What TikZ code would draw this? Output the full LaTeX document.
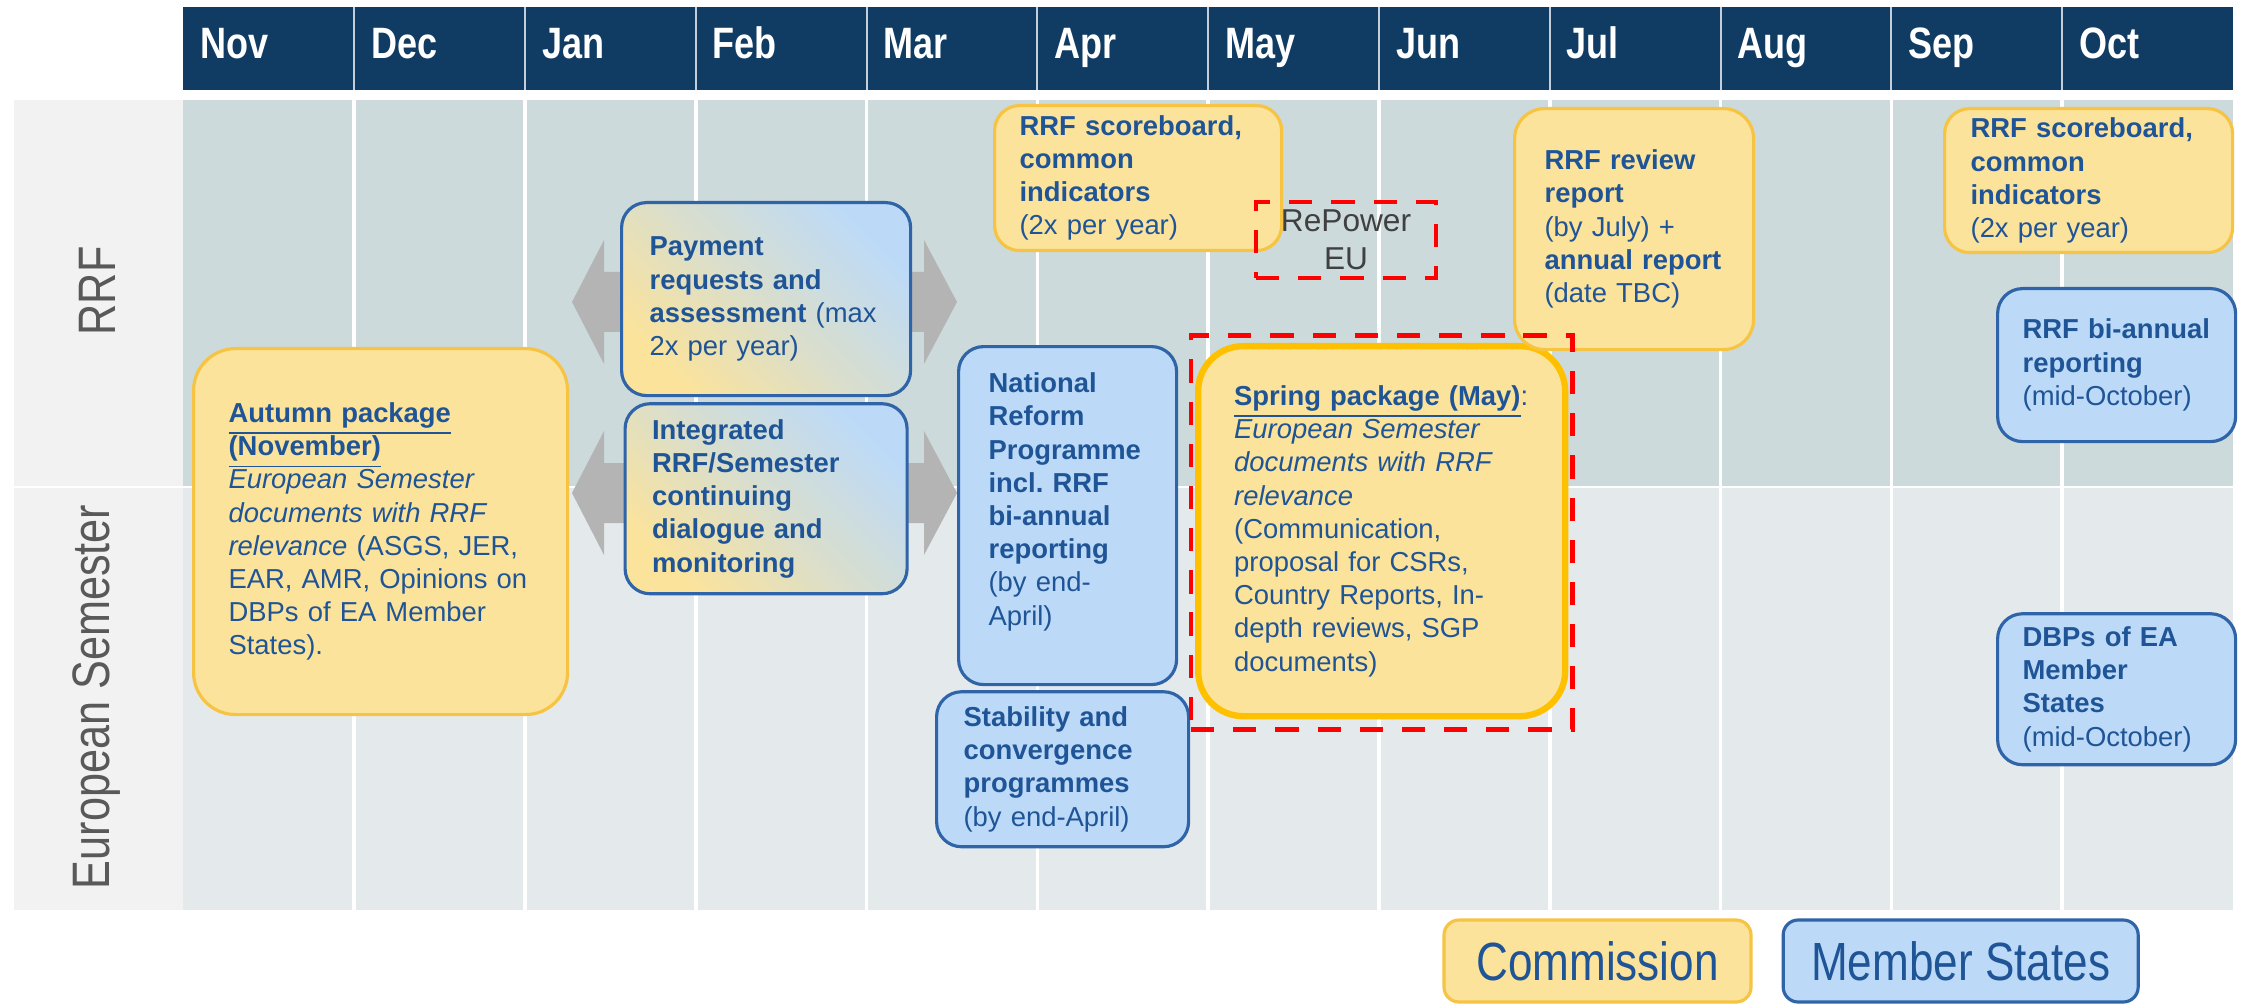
\documentclass[tikz,border=0pt]{standalone}
\usepackage{fontspec}
\setmainfont{Liberation Sans}
\newfontfamily\narrowfont[FakeStretch=0.82]{Liberation Sans}
\usetikzlibrary{positioning,fit}

\definecolor{headnavy}{RGB}{16,59,99}
\definecolor{rrfbg}{RGB}{204,218,220}
\definecolor{esbg}{RGB}{228,234,236}
\definecolor{lanebg}{RGB}{242,242,242}
\definecolor{lanegray}{RGB}{89,89,89}
\definecolor{comfill}{RGB}{251,227,155}
\definecolor{comline}{RGB}{246,195,66}
\definecolor{springline}{RGB}{255,192,0}
\definecolor{msfill}{RGB}{188,218,248}
\definecolor{msline}{RGB}{47,100,168}
\definecolor{txtblue}{RGB}{31,84,150}
\definecolor{arrowgray}{RGB}{180,180,180}
\definecolor{repgray}{RGB}{64,64,64}

\tikzset{
  evbox/.style={rectangle, rounded corners=0.25cm, align=left, anchor=north west,
    inner xsep=0.27cm, inner ysep=0pt, text=txtblue, line width=0.9pt,
    font=\fontsize{7.8pt}{9.45pt}\selectfont},
  combox/.style={evbox, fill=comfill, draw=comline},
  msbox/.style={evbox, fill=msfill, draw=msline},
  mixbox/.style={evbox, draw=msline, top color=comfill, bottom color=msfill,
    middle color=msfill!55!comfill, shading angle=135},
  reddash/.style={draw=red, line width=1.4pt, dash pattern=on 6.6pt off 5.4pt},
  month/.style={anchor=base west, text=white, font=\narrowfont\bfseries\fontsize{12.5pt}{14pt}\selectfont},
  lane/.style={rotate=90, text=lanegray, font=\narrowfont\fontsize{15pt}{18pt}\selectfont},
  legend/.style={rectangle, rounded corners=0.15cm, line width=0.9pt, text=txtblue,
    minimum height=0.82cm, inner sep=0pt, font=\narrowfont\fontsize{15.3pt}{18pt}\selectfont},
}

\begin{document}
\frenchspacing
\begin{tikzpicture}
\useasboundingbox (0,0) rectangle (22.47,10.04);

\fill[lanebg] (0.14,0.94) rectangle (1.834,9.04);
\fill[rrfbg] (1.834,5.17) rectangle (22.33,9.04);
\fill[esbg] (1.834,0.94) rectangle (22.33,5.17);
\foreach \i in {1,...,11} {
\draw[white, line width=1pt] (1.834+1.708*\i,0.94) -- (1.834+1.708*\i,9.04);
}
\draw[white, line width=0.6pt] (0.14,5.17) -- (22.33,5.17);

\node[lane] (rrf) at (0.97,7.13) {RRF};
\node[lane] (es) at (0.97,3.07) {European Semester};

\fill[headnavy] (1.834,9.14) rectangle (22.33,9.97);
\foreach \i in {1,...,11} {
\draw[white!75!headnavy, line width=0.6pt] (1.834+1.708*\i,9.14) -- ++(0,0.83);
}
\foreach \m [count=\i from 0] in {Nov,Dec,Jan,Feb,Mar,Apr,May,Jun,Jul,Aug,Sep,Oct} {
\node[month] (m\m) at (1.88+1.708*\i,9.45) {\m};
}

\foreach \yc in {7.02,5.11} {
\fill[arrowgray] (5.72,\yc) -- ++(0.32,0.62) -- ++(0,-0.32) -- (9.24,\yc+0.30) -- ++(0,0.32)
  -- (9.57,\yc) -- ++(-0.33,-0.62) -- ++(0,0.32) -- (6.04,\yc-0.30) -- ++(0,-0.32) -- cycle;
}

\node[combox, rounded corners=0.42cm, inner xsep=0.35cm, text width=3.04cm, minimum height=3.66cm] (autumn) at (1.92,6.57)
  {\underline{\textbf{Autumn package}}\\
   \underline{\textbf{(November)}}\\
   \textit{European Semester}\\
   \textit{documents with RRF}\\
   \textit{relevance} (ASGS, JER,\\
   EAR, AMR, Opinions on\\
   DBPs of EA Member\\
   States).};

\node[mixbox, inner xsep=0.28cm, text width=2.33cm, minimum height=1.93cm] (pay) at (6.20,8.03)
  {\textbf{Payment}\\
   \textbf{requests and}\\
   \textbf{assessment} (max\\
   2x per year)};
\node[mixbox, text width=2.28cm, minimum height=1.90cm, below=0.05cm of pay] (integ)
  {\bfseries Integrated\\RRF/Semester\\continuing\\dialogue and\\monitoring};

\node[combox, inner xsep=0.25cm, text width=2.37cm, minimum height=1.45cm] (scoreA) at (9.93,9.00)
  {\textbf{RRF scoreboard,}\\
   \textbf{common}\\
   \textbf{indicators}\\
   (2x per year)};

\node[msbox, inner xsep=0.30cm, text width=1.58cm, minimum height=3.38cm] (natl) at (9.57,6.59)
  {\textbf{National}\\
   \textbf{Reform}\\
   \textbf{Programme}\\
   \textbf{incl. RRF}\\
   \textbf{bi-annual}\\
   \textbf{reporting}\\
   (by end-\\
   April)\\
   ~};
\node[msbox, text width=1.98cm, minimum height=1.55cm, below=0.04cm of natl, xshift=-0.05cm] (stab)
  {\textbf{Stability and}\\
   \textbf{convergence}\\
   \textbf{programmes}\\
   (by end-April)};

\node[combox, draw=springline, line width=1.8pt, rounded corners=0.45cm, inner xsep=0.36cm, text width=2.95cm, minimum height=3.70cm] (spring) at (11.95,6.61)
  {\underline{\textbf{Spring package (May)}}:\\
   \textit{European Semester}\\
   \textit{documents with RRF}\\
   \textit{relevance}\\
   (Communication,\\
   proposal for CSRs,\\
   Country Reports, In-\\
   depth reviews, SGP\\
   documents)};

\node[combox, rounded corners=0.3cm, inner xsep=0.30cm, text width=1.79cm, minimum height=2.41cm] (review) at (15.13,8.97)
  {\textbf{RRF review}\\
   \textbf{report}\\
   (by July) +\\
   \textbf{annual report}\\
   (date TBC)};

\node[combox, inner xsep=0.26cm, text width=2.36cm, minimum height=1.44cm] (scoreS) at (19.43,8.97)
  {\textbf{RRF scoreboard,}\\
   \textbf{common}\\
   \textbf{indicators}\\
   (2x per year)};

\node[msbox, inner xsep=0.25cm, text width=1.88cm, minimum height=1.53cm] (rrfbi) at (19.96,7.17)
  {\textbf{RRF bi-annual}\\
   \textbf{reporting}\\
   (mid-October)};
\node[msbox, inner xsep=0.25cm, text width=1.88cm, minimum height=1.51cm, below=1.69cm of rrfbi] (dbps)
  {\textbf{DBPs of EA}\\
   \textbf{Member}\\
   \textbf{States}\\
   (mid-October)};

\node[reddash, minimum width=1.80cm, minimum height=0.76cm, inner sep=0pt, align=center, text=repgray,
  font=\fontsize{9pt}{10.8pt}\selectfont] (repower) at (13.46,7.64) {RePower\\EU};
\node[reddash, fit=(spring), inner xsep=0.04cm, inner ysep=0.09cm, yshift=-0.015cm] (springdash) {};

\node[legend, fill=comfill, draw=comline, minimum width=3.07cm] (comm) at (15.975,0.43) {Commission};
\node[legend, fill=msfill, draw=msline, minimum width=3.55cm, right=0.29cm of comm] (ms) {Member States};
\end{tikzpicture}
\end{document}
